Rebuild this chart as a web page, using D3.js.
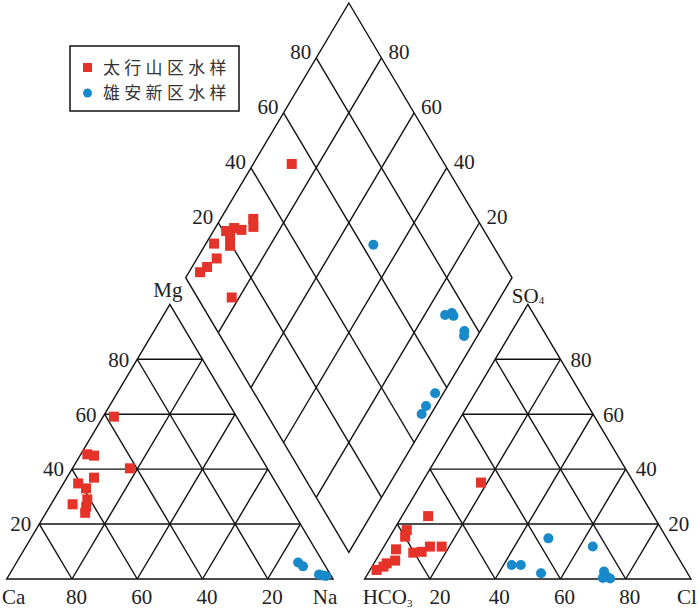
<!DOCTYPE html>
<html>
<head>
<meta charset="utf-8">
<script src="https://cdn.jsdelivr.net/npm/d3@7"></script>
<style>
  body { margin: 0; background: #fff; }
  svg text { font-family: "Liberation Serif", "DejaVu Serif", serif; fill: #222; }
</style>
</head>
<body>
<svg id="piper_svg"></svg>
<script>
// tick values on every axis
const ticks = [20, 40, 60, 80];

// cation triangle, [Mg %, Na %]
const taihangCation = [[59.1, 3.3], [40.3, 17.6], [45.4, 2.0], [44.9, 4.3], [36.9, 8.3], [34.8, 4.5],
  [33.0, 7.8], [29.0, 10.2], [27.2, 6.6], [26.3, 11.2], [24.1, 12.0]];
const xionganCation = [[6.0, 86.3], [4.6, 88.5], [1.6, 94.9], [1.3, 96.3], [1.1, 97.3]];

// anion triangle, [SO4 %, Cl %]
const taihangAnion = [[35.1, 18.1], [22.9, 8.0], [17.8, 4.0], [15.4, 4.7], [10.8, 4.2], [5.7, 3.9],
  [6.7, 6.0], [3.3, 2.0], [4.5, 3.5], [9.6, 10.1], [9.9, 12.5], [11.8, 14.1], [11.8, 17.7]];
const xionganAnion = [[14.8, 48.9], [11.8, 64.0], [5.1, 42.5], [5.1, 45.3], [2.1, 53.0],
  [2.7, 72.0], [0.8, 73.8], [0.4, 72.8], [0.2, 75.1]];

// diamond, [SO4+Cl %, Ca+Mg %]
const taihangDiamond = [[53.2, 88.2], [31.4, 90.0], [30.0, 88.5], [25.8, 91.6], [23.9, 94.2], [20.9, 96.1],
  [21.0, 93.8], [19.4, 92.2], [14.9, 97.5], [13.0, 94.0], [8.5, 95.4], [5.4, 96.6], [10.5, 82.3]];
const xionganDiamond = [[63.5, 48.5], [72.7, 13.7], [75.1, 12.0], [75.1, 11.0], [75.7, 4.9],
  [74.7, 4.1], [55.4, 2.5], [50.3, 3.0], [47.5, 2.9]];

const legendNames = ["太行山区水样", "雄安新区水样"];

const red = "#e5332a";
const blue = "#1889c9";

const W = 700, Hpx = 611;
const H = Math.sqrt(3) / 2;   // triangle height in unit space
const G = 0.097;              // gap between the two triangles

const svg = d3.select("#piper_svg").attr("width", W).attr("height", Hpx);

const X = d3.scaleLinear().domain([0, 2 + G]).range([6.7, 691]);
const Y = d3.scaleLinear().domain([0, 2 * H + G * H]).range([579, 3]);

// unit-space positions
const cat = (mg, na) => [X(na / 100 + mg / 200), Y(mg / 100 * H)];
const ani = (so4, cl) => [X(1 + G + cl / 100 + so4 / 200), Y(so4 / 100 * H)];
const dia = (a, b) => [X(1 + G / 2 + 0.5 * (a - b) / 100), Y(G * H + H * (a + b) / 100)];

const line = d3.line();
const lines = svg.append("g").attr("fill", "none").attr("stroke", "#111").attr("stroke-width", 1.4);

// outlines
lines.append("path").attr("d", line([cat(0, 0), cat(0, 100), cat(100, 0)]) + "Z");
lines.append("path").attr("d", line([ani(0, 0), ani(0, 100), ani(100, 0)]) + "Z");
lines.append("path").attr("d", line([dia(0, 0), dia(100, 0), dia(100, 100), dia(0, 100)]) + "Z");

// grid
ticks.forEach(t => {
  lines.append("path").attr("d", line([cat(t, 0), cat(t, 100 - t)]));
  lines.append("path").attr("d", line([cat(0, t), cat(100 - t, t)]));
  lines.append("path").attr("d", line([cat(0, 100 - t), cat(100 - t, 0)]));

  lines.append("path").attr("d", line([ani(t, 0), ani(t, 100 - t)]));
  lines.append("path").attr("d", line([ani(0, t), ani(100 - t, t)]));
  lines.append("path").attr("d", line([ani(0, 100 - t), ani(100 - t, 0)]));

  lines.append("path").attr("d", line([dia(t, 0), dia(t, 100)]));
  lines.append("path").attr("d", line([dia(0, t), dia(100, t)]));
});

// tick labels
const labels = svg.append("g").style("font-size", "21px");
ticks.forEach(t => {
  let p = cat(t, 0);
  labels.append("text").attr("x", p[0] - 8).attr("y", p[1]).attr("dy", "0.35em")
    .attr("text-anchor", "end").text(t);
  p = cat(0, 100 - t);
  labels.append("text").attr("x", p[0] + 4.5).attr("y", 604).attr("text-anchor", "middle").text(t);

  p = ani(0, t);
  labels.append("text").attr("x", p[0] + (t === 20 ? 10 : 4)).attr("y", 604)
    .attr("text-anchor", "middle").text(t);
  p = ani(t, 100 - t);
  labels.append("text").attr("x", p[0] + 10).attr("y", p[1]).attr("dy", "0.35em").text(t);

  p = dia(t, 100);
  labels.append("text").attr("x", p[0] - 5).attr("y", p[1] - 6).attr("dy", "0.35em")
    .attr("text-anchor", "end").text(t);
  p = dia(100, t);
  labels.append("text").attr("x", p[0] + 7).attr("y", p[1] - 6).attr("dy", "0.35em").text(t);
});

// corner labels
labels.append("text").attr("x", 2).attr("y", 604).text("Ca");
labels.append("text").attr("x", cat(0, 100)[0] - 8).attr("y", 604).attr("text-anchor", "middle").text("Na");
labels.append("text").attr("x", cat(100, 0)[0] - 2).attr("y", 297).attr("text-anchor", "middle").text("Mg");
const hco3 = labels.append("text").attr("x", ani(0, 0)[0] - 2).attr("y", 604).text("HCO");
hco3.append("tspan").attr("dy", 2.5).style("font-size", "11px").text("3");
labels.append("text").attr("x", ani(0, 100)[0] - 14).attr("y", 604).text("Cl");
const so4 = labels.append("text").attr("x", ani(100, 0)[0] - 16).attr("y", 303).text("SO");
so4.append("tspan").attr("dy", 1).style("font-size", "11px").text("4");

// samples
const drawSquares = (data, pos) => {
  svg.append("g").selectAll("rect")
    .data(data)
    .enter().append("rect")
    .attr("x", d => pos(d[0], d[1])[0] - 5)
    .attr("y", d => pos(d[0], d[1])[1] - 5)
    .attr("width", 10).attr("height", 10)
    .style("fill", red);
};
const drawDots = (data, pos) => {
  svg.append("g").selectAll("circle")
    .data(data)
    .enter().append("circle")
    .attr("cx", d => pos(d[0], d[1])[0])
    .attr("cy", d => pos(d[0], d[1])[1])
    .attr("r", 5)
    .style("fill", blue);
};
drawSquares(taihangCation, cat);
drawSquares(taihangAnion, ani);
drawSquares(taihangDiamond, dia);
drawDots(xionganCation, cat);
drawDots(xionganAnion, ani);
drawDots(xionganDiamond, dia);

// legend
const legend = svg.append("g");
legend.append("rect").attr("x", 70).attr("y", 46).attr("width", 169).attr("height", 65)
  .attr("fill", "#fff").attr("stroke", "#111").attr("stroke-width", 1.5);
legend.append("rect").attr("x", 83).attr("y", 63).attr("width", 9).attr("height", 9).style("fill", red);
legend.append("circle").attr("cx", 87.5).attr("cy", 93).attr("r", 4.5).style("fill", blue);
legend.selectAll("text.lg")
  .data(legendNames)
  .enter().append("text")
  .attr("class", "lg")
  .attr("x", 103)
  .attr("y", (d, i) => 68 + i * 25)
  .attr("dy", "0.36em")
  .style("font-family", "'Noto Sans CJK SC', sans-serif")
  .style("font-size", "17px")
  .style("letter-spacing", "4.3px")
  .style("fill", "#333")
  .text(d => d);
</script>
</body>
</html>
